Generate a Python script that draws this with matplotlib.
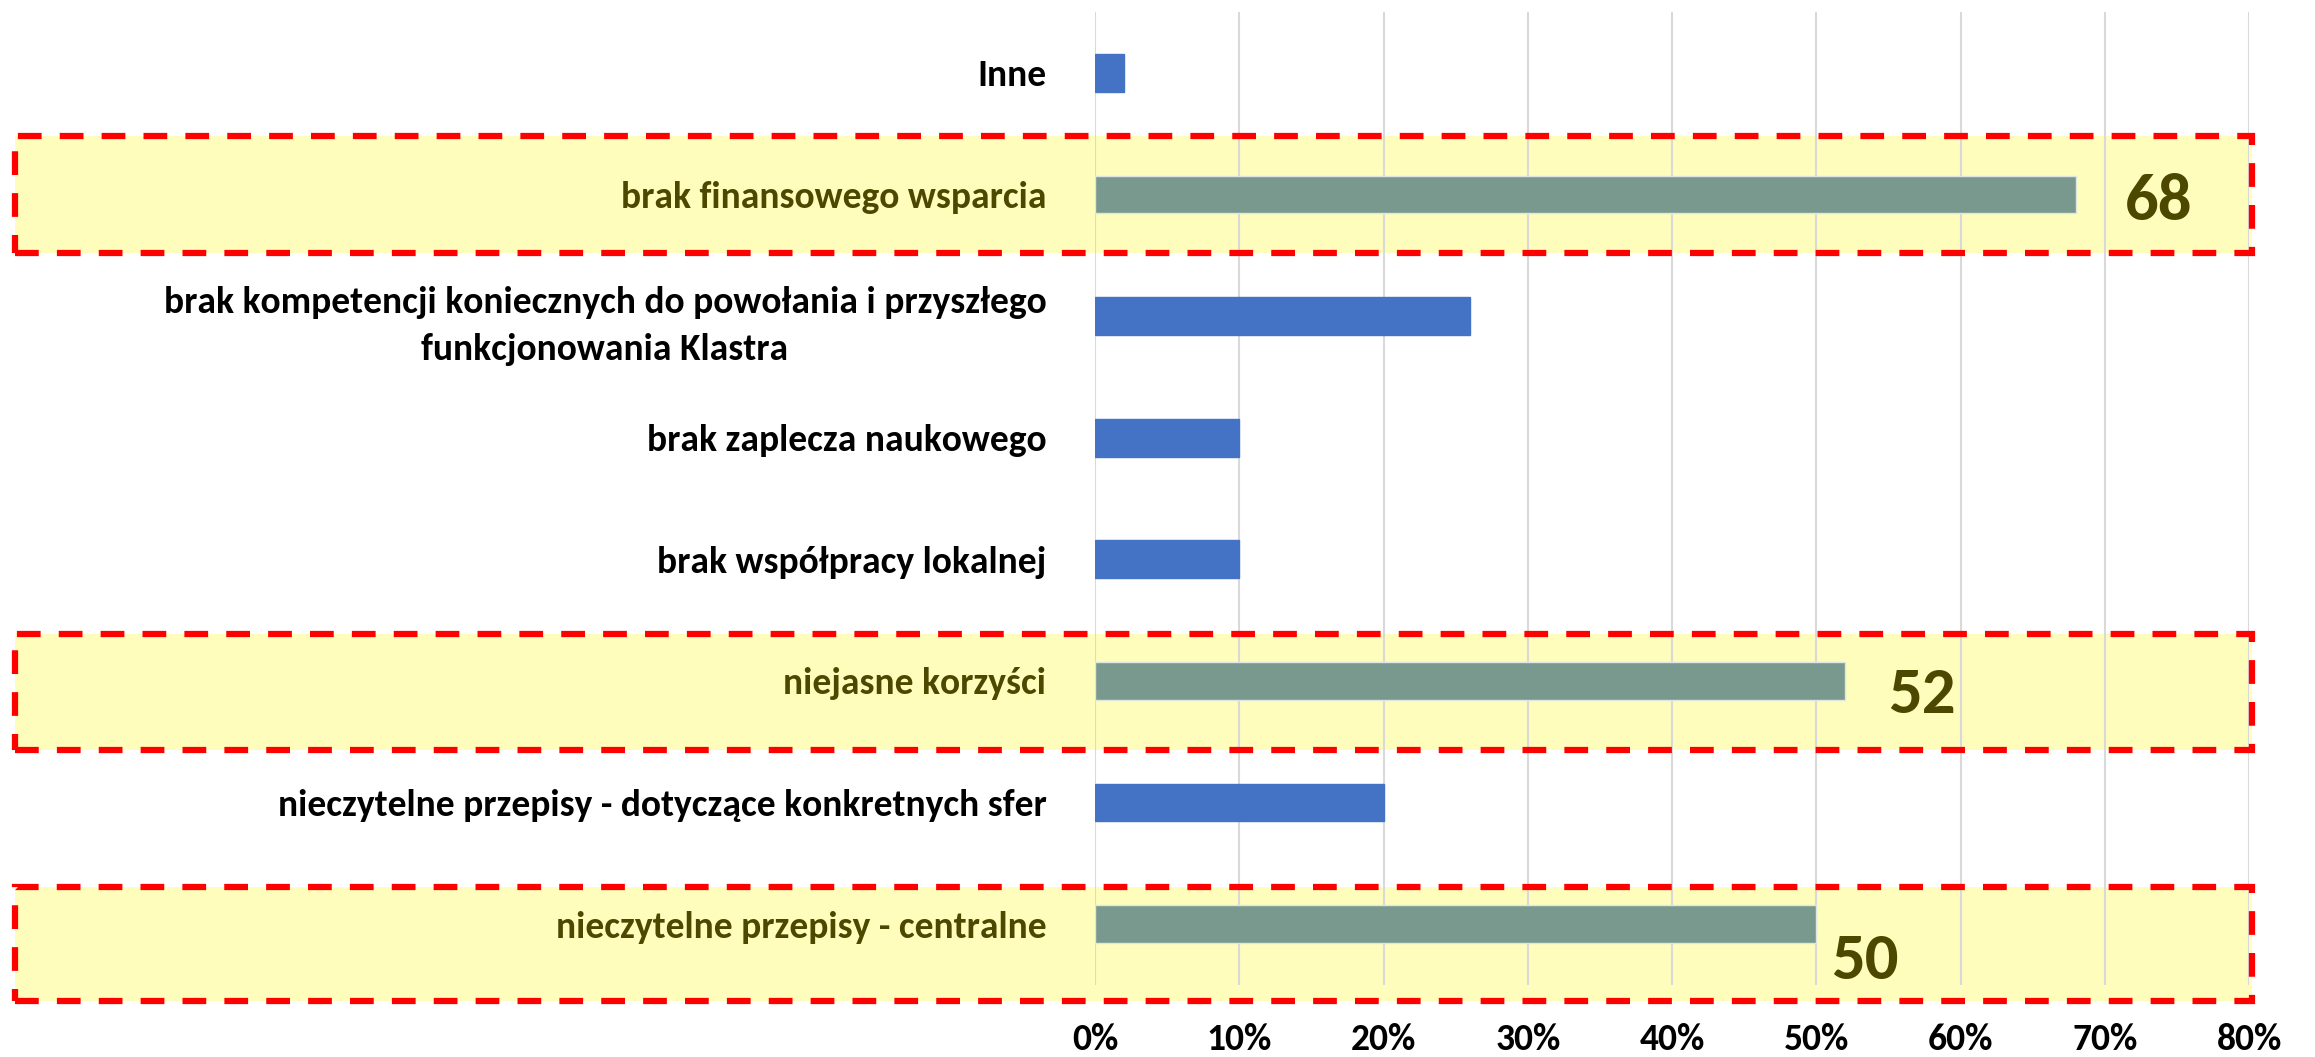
import matplotlib
matplotlib.use("Agg")
import matplotlib.pyplot as plt
import matplotlib.transforms as mtransforms
from matplotlib import font_manager
from matplotlib.patches import Rectangle
from matplotlib.ticker import PercentFormatter

# dane (od dołu do góry)
kategorie = [
    "nieczytelne przepisy - centralne",
    "nieczytelne przepisy - dotyczące konkretnych sfer",
    "niejasne korzyści",
    "brak współpracy lokalnej",
    "brak zaplecza naukowego",
    "brak kompetencji koniecznych do powołania i przyszłego\nfunkcjonowania Klastra",
    "brak finansowego wsparcia",
    "Inne",
]
wartosci = [50, 20, 52, 10, 10, 26, 68, 2]
wyroznione = [0, 2, 6]          # indeksy kategorii w ramkach
etykiety_wyr = ["50", "52", "68"]

# font podobny do Calibri: (nazwa, rozmiar etykiet, rozmiar liczb)
dostepne = {f.name for f in font_manager.fontManager.ttflist}
kandydaci = [("Carlito", 27, 48), ("Fira Sans Condensed", 26, 45), ("DejaVu Sans", 24, 43)]
font, rozm, rozm_duzy = next(k for k in kandydaci if k[0] in dostepne)
plt.rcParams['font.family'] = [font, 'DejaVu Sans']

niebieski = '#4472c4'
zielony = '#7a998e'
oliwka = '#4d4800'
zolty = '#fffdbb'
czerwony = '#ff0000'

fig = plt.figure(figsize=(23.15, 10.57), dpi=100)
ax = fig.add_axes([0.473, 0.0681, 0.4985, 0.9205])

kolory = [zielony if i in wyroznione else niebieski for i in range(len(kategorie))]
ax.barh(range(len(kategorie)), wartosci, height=0.31, color=kolory,
        edgecolor=['#dde6e2' if i in wyroznione else niebieski for i in range(len(kategorie))],
        linewidth=1, zorder=3)

ax.set_xlim(0, 80)
ax.set_ylim(-0.5, 7.5)
ax.set_xticks(range(0, 81, 10))
ax.xaxis.set_major_formatter(PercentFormatter(decimals=0))
ax.set_yticks(range(len(kategorie)))
ax.set_yticklabels(kategorie, fontsize=rozm, fontweight='bold', multialignment='center',
                   linespacing=1.5)
for i, lab in enumerate(ax.get_yticklabels()):
    if i in wyroznione:
        lab.set_color(oliwka)
ax.tick_params(axis='y', length=0, pad=35)
ax.tick_params(axis='x', length=0, pad=27, labelsize=rozm)
for lab in ax.get_xticklabels():
    lab.set_fontweight('bold')

for s in ax.spines.values():
    s.set_visible(False)
ax.set_axisbelow(True)
ax.grid(axis='x', color='#d9d9d9', linewidth=1.5)
ax.grid(axis='y', visible=False)

# ramki wyróżnień: x w ułamkach figury, y w danych
trans = mtransforms.blended_transform_factory(fig.transFigure, ax.transData)
ramki = [(-0.63, 0.31), (1.43, 2.39), (5.52, 6.48)]
for dol, gora in ramki:
    ax.add_patch(Rectangle((0.0065, dol), 0.9663, gora - dol, transform=trans,
                           facecolor=zolty, edgecolor='none', zorder=0.2, clip_on=False))
    ax.add_patch(Rectangle((0.0065, dol), 0.9663, gora - dol, transform=trans,
                           facecolor='none', edgecolor=czerwony, linewidth=4.5,
                           linestyle=(0, (3.8, 2.9)), zorder=4, clip_on=False))

# duże etykiety wartości
pozycje_etyk = [(53.4, -0.30), (57.3, 1.885), (73.7, 5.94)]
for (x, y), t in zip(pozycje_etyk, etykiety_wyr):
    ax.text(x, y, t, fontsize=rozm_duzy, fontweight='bold', color=oliwka,
            ha='center', va='center', zorder=5)

fig.savefig("out.png", dpi=100)
